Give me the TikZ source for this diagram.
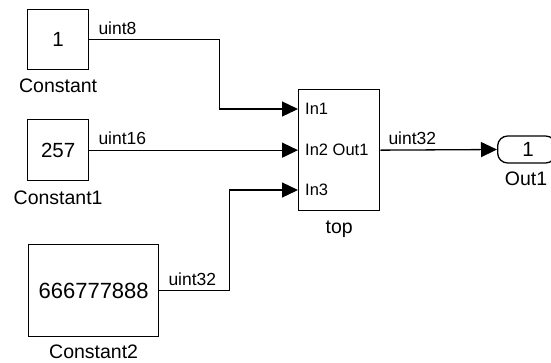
\documentclass[tikz,border=0pt]{standalone}
\usepackage{fontspec}
\setmainfont{Liberation Sans}
\usetikzlibrary{arrows.meta}
\begin{document}
\begin{tikzpicture}[x=1pt,y=-1pt,
  blk/.style={draw,line width=1.3pt,inner sep=0pt,anchor=north west},
  txt/.style={inner sep=0pt},
  blkname/.style={txt,font=\fontsize{19.5}{20}\selectfont},
  sig/.style={txt,font=\fontsize{17.5}{18}\selectfont},
  port/.style={txt,font=\fontsize{16.5}{17}\selectfont},
  big/.style={font=\fontsize{20.5}{21}\selectfont},
  huge/.style={font=\fontsize{22}{22}\selectfont},
  wire/.style={line width=1.3pt,-{Triangle[length=16pt,width=15pt]}},
  ]
\useasboundingbox[fill=white] (0,0) rectangle (551,362);
% blocks
\node[blk,big,minimum width=61pt,minimum height=60pt] (c0) at (27,9) {1};
\node[blk,big,minimum width=61pt,minimum height=61pt] (c1) at (27,119) {257};
\node[blk,huge,minimum width=130pt,minimum height=92pt] (c2) at (28,244) {666777888};
\node[blk,minimum width=81pt,minimum height=121pt] (top) at (298,89) {};
\node[draw,line width=1.3pt,rounded corners=10pt,minimum width=58pt,minimum height=27pt,anchor=west,inner sep=0pt] (out) at (497,149.5) {};
\node[txt,big] (outnum) at (528,149.5) {1};
% block names
\node[blkname,anchor=north] (n0) at ([yshift=-8pt]c0.south) {Constant};
\node[blkname,anchor=north] (n1) at ([yshift=-9pt]c1.south) {Constant1};
\node[blkname,anchor=north] (n2) at ([yshift=-7pt]c2.south) {Constant2};
\node[blkname,anchor=north] (nt) at ([yshift=-9pt]top.south) {top};
\node[blkname,anchor=north] (no) at (526,172) {Out1};
% ports
\coordinate (in1) at (298,109);
\coordinate (in2) at (top.west);
\coordinate (in3) at (298,190);
\node[port,anchor=west] (p1) at ([xshift=7pt]in1) {In1};
\node[port,anchor=west] (p2) at ([xshift=7pt]in2) {In2 Out1};
\node[port,anchor=west] (p4) at ([xshift=7pt]in3) {In3};
% wires
\draw[wire] (c0.east) -- ++(130,0) |- (in1);
\draw[wire] (c1.east) -- (in2);
\draw[wire] (c2.east) -- ++(70,0) |- (in3);
\draw[wire] (top.east) -- (out.west);
% signal labels
\node[sig,anchor=south west] (s0) at ([xshift=9pt,yshift=5pt]c0.east) {uint8};
\node[sig,anchor=south west] (s1) at ([xshift=9pt,yshift=5pt]c1.east) {uint16};
\node[sig,anchor=south west] (s2) at ([xshift=9pt,yshift=5pt]c2.east) {uint32};
\node[sig,anchor=south west] (s3) at ([xshift=8pt,yshift=5pt]top.east) {uint32};
\end{tikzpicture}
\end{document}
